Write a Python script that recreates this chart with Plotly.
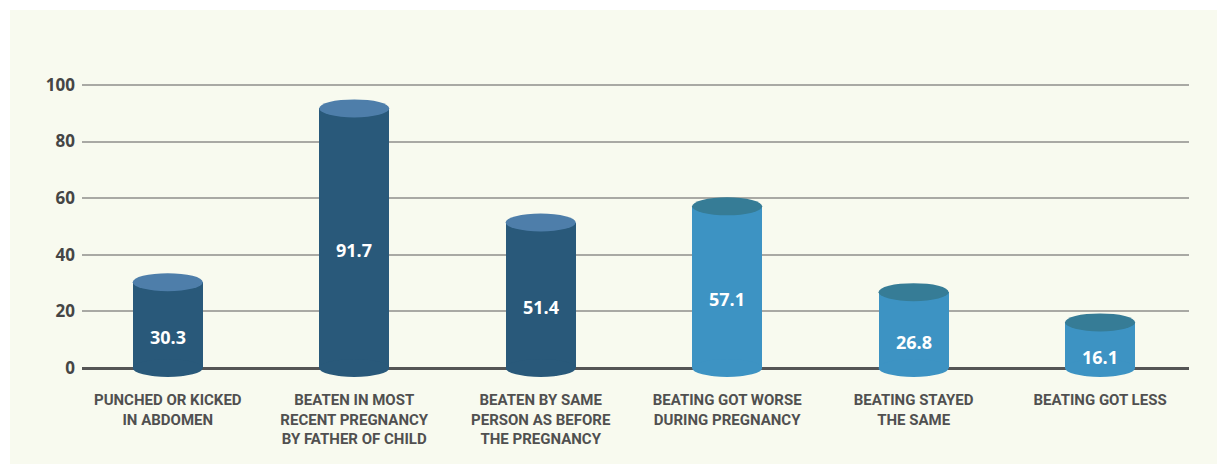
import plotly.graph_objects as go

# Survey results: share of respondents (%)
categories = [
    "PUNCHED OR KICKED<br>IN ABDOMEN",
    "BEATEN IN MOST<br>RECENT PREGNANCY<br>BY FATHER OF CHILD",
    "BEATEN BY SAME<br>PERSON AS BEFORE<br>THE PREGNANCY",
    "BEATING GOT WORSE<br>DURING PREGNANCY",
    "BEATING STAYED<br>THE SAME",
    "BEATING GOT LESS",
]
values = [30.3, 91.7, 51.4, 57.1, 26.8, 16.1]
value_labels = ["30.3", "91.7", "51.4", "57.1", "26.8", "16.1"]
y_ticks = [0, 20, 40, 60, 80, 100]

# colour groups: first three dark, last three light
body_colors = ["#29597a", "#29597a", "#29597a", "#3d93c3", "#3d93c3", "#3d93c3"]
top_colors = ["#4e7eaa", "#4e7eaa", "#4e7eaa", "#367c96", "#367c96", "#367c96"]

BG = "#f8faef"
BAR_W = 0.376
ELL_RY = 9  # half-height of cylinder caps in pixels

x_pos = list(range(len(categories)))

fig = go.Figure()
fig.add_trace(go.Bar(
    x=x_pos, y=values, width=BAR_W,
    marker=dict(color=body_colors, line=dict(width=0)),
    hoverinfo="skip", showlegend=False,
))

shapes = [
    # cream panel behind the chart
    dict(type="rect", xref="paper", yref="paper",
         x0=-0.065, x1=1.03, y0=-0.25, y1=1.1543,
         fillcolor=BG, line=dict(width=0), layer="below"),
]
for i, v in enumerate(values):
    # bottom cap
    shapes.append(dict(type="circle", xref="x", yref="y", ysizemode="pixel",
                       yanchor=0, y0=-ELL_RY, y1=ELL_RY,
                       x0=i - BAR_W / 2, x1=i + BAR_W / 2,
                       fillcolor=body_colors[i], line=dict(width=0)))
    # top cap
    shapes.append(dict(type="circle", xref="x", yref="y", ysizemode="pixel",
                       yanchor=v, y0=-ELL_RY, y1=ELL_RY,
                       x0=i - BAR_W / 2, x1=i + BAR_W / 2,
                       fillcolor=top_colors[i], line=dict(width=0)))

annotations = []
for i, (v, t) in enumerate(zip(values, value_labels)):
    annotations.append(dict(x=i, y=v / 2, yshift=-12, text=t, showarrow=False,
                            font=dict(family="Open Sans", size=18, color="white",
                                      weight="bold")))

fig.update_layout(
    width=1217, height=464,
    margin=dict(l=82, r=28, t=60, b=80),
    paper_bgcolor="white", plot_bgcolor="rgba(0,0,0,0)",
    shapes=shapes, annotations=annotations,
    bargap=0,
    xaxis=dict(
        range=[-0.46, 5.477], tickmode="array", tickvals=x_pos, ticktext=categories,
        showgrid=False, zeroline=False, showline=False, ticks="",
        tickfont=dict(family="Roboto", size=15, color="#505050", weight="bold"),
        ticklabelstandoff=5,
    ),
    yaxis=dict(
        range=[-5.65, 108.8], tickmode="array", tickvals=y_ticks,
        showgrid=True, gridcolor="#a9a9a4", gridwidth=1.5,
        zeroline=True, zerolinecolor="#555555", zerolinewidth=3,
        showline=False, ticks="",
        tickfont=dict(family="Open Sans", size=17, color="#454545", weight="bold"),
        ticklabelstandoff=6,
    ),
)

fig.write_html("out.html")
